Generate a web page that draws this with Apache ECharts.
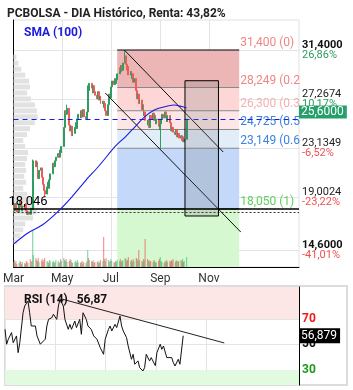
<!DOCTYPE html>
<html>
<head>
<meta charset="utf-8">
<script src="https://cdn.jsdelivr.net/npm/echarts@6/dist/echarts.min.js"></script>
<style>
  html,body{margin:0;padding:0;background:#fff;}
  #box{width:353px;height:390px;}
</style>
</head>
<body>
<div id="box"></div>
<script>
// cierres diarios (semana a semana, lun-vie)
var closes = [
  18.3, 17.9, 18.5, 18.1, 17.8,  18.4, 18.7, 18.2, 17.9, 18.3,
  18.0, 18.5, 17.9, 17.6, 17.8,  17.6, 18.1, 18.0, 21.9, 22.1,
  21.6, 22.0, 21.1, 20.6, 21.3,  21.5, 20.7, 20.1, 19.6, 19.3,
  19.9, 20.3, 19.8, 20.5, 21.0,  21.3, 21.9, 21.6, 22.1, 22.4,
  22.7, 22.4, 23.0, 22.8, 23.3,  24.9, 25.6, 26.3, 26.0, 26.5,
  25.1, 24.6, 25.0, 24.2, 24.4,  24.9, 25.3, 24.8, 25.6, 26.0,
  25.7, 26.3, 25.8, 26.4, 25.8,  25.6, 26.2, 28.4, 28.0, 28.6,
  28.2, 27.8, 28.4, 27.9, 27.6,  27.3, 27.9, 27.2, 27.5, 26.9,
  27.1, 26.6, 26.9, 26.3, 25.9,  26.8, 27.7, 27.4, 28.3, 28.8,
  28.5, 29.0, 28.6, 28.9, 29.4,  29.9, 29.6, 30.1, 29.7, 30.3,
  30.9, 30.2, 29.7, 30.0, 29.3,  29.6, 29.0, 29.4, 28.7, 29.0,
  28.0, 27.3, 27.7, 26.9, 27.2,  26.4, 26.8, 25.9, 26.2, 25.5,
  25.1, 25.5, 24.9, 25.9, 25.6,  26.1, 25.5, 25.9, 25.2, 25.6,
  25.0, 24.7, 25.2, 25.6, 26.0,  25.7, 26.2, 25.8, 25.4, 25.9,
  25.3, 25.0, 24.6, 24.9, 24.5,  24.3, 24.7, 24.1, 24.4, 24.0,
  24.2, 23.8, 24.1, 23.7, 23.9,  25.6
];
var firstOpen = 18.0;
// mechas visibles: indice -> [minimo, maximo]
var wicks = {18: [18.0, 22.2], 29: [19.1, 19.6], 49: [26.0, 26.8], 100: [30.3, 31.4], 132: [23.1, 25.2]};
var volumes = [
  5,7,4,6,3, 4,6,5,3,5, 4,3,6,5,4, 8,5,6,37,12, 9,7,6,9,5, 6,8,5,7,9,
  6,5,4,7,6, 5,6,4,5,7, 6,4,5,8,6, 9,7,6,8,5, 6,8,7,5,4, 5,6,4,7,5,
  4,5,6,3,5, 4,6,17,9,7, 6,5,7,4,5, 5,6,4,5,7, 6,30,8,6,9, 7,5,6,8,6,
  5,4,6,5,7, 6,8,5,6,7, 9,8,6,7,10, 6,7,5,8,6, 9,8,6,17,7, 6,5,8,7,28,
  8,6,7,5,6, 5,7,6,4,5, 6,8,10,6,5, 4,6,5,7,5, 6,5,7,6,8, 5,7,6,5,6,
  7,6,8,5,6, 10
];
var rsiValues = [
  61.9,50.2,54.1,59.3,51.4,56.7,43.6,51.4,74.9,80.2,
  84.1,74.9,64.5,64.5,56.7,50.2,48.8,54.1,64.5,69.7,
  71.0,73.7,69.7,80.2,85.5,80.2,69.7,61.9,65.8,61.9,
  68.4,63.2,69.7,58.0,74.9,69.7,64.5,61.9,56.7,54.1,
  52.7,47.5,42.3,54.1,61.9,64.5,60.6,65.8,63.2,72.3,
  64.5,60.6,55.4,48.8,38.4,42.3,34.5,37.1,31.8,29.2,
  31.8,42.3,37.1,39.7,33.4,43.6,50.2,46.2,48.8,39.7,
  41.0,39.7,35.7,33.1,38.4,34.5,56.879
];
var smaDates = ['2021-03-01','2021-03-19','2021-04-06','2021-04-25','2021-05-13','2021-05-31','2021-06-16','2021-07-07',
                '2021-07-19','2021-07-31','2021-08-12','2021-08-24','2021-09-05','2021-09-18','2021-09-28','2021-10-04'];
var smaValues = [15.10,16.03,16.70,17.79,19.05,20.48,21.66,23.34,24.09,24.93,25.77,26.35,26.61,26.78,26.65,26.53];

// perfil de volumen por precio (tramos de 0,5)
var vpPrices = [30.5,30.0,29.5,29.0,28.5,28.0,27.5,27.0,26.5,26.0,25.5,25.0,24.5,24.0,23.5,23.0,
                22.5,22.0,21.5,21.0,20.5,20.0,19.5,19.0,18.5,18.0,17.5,17.0,16.5,16.0,15.5,15.0];
var vpVolumes = [3,5,8,12,16,17,14,18,22,24,25,22,17,14,10,12,15,14,12,13,11,13,10,14,18,22,24,20,12,10,7,4];

// fibonacci
var fibLevels = [31.4, 28.249, 26.3, 24.725, 23.149, 18.05];
var fibLabels = ['31,400 (0)','28,249 (0.236)','26,300 (0.382)','24,725 (0.5)','23,149 (0.618)','18,050 (1)'];
var fibStart = '2021-07-09', fibEnd = '2021-12-09';

// eje de precios
var priceTicks = [31.4, 27.2674, 23.1349, 19.0024, 14.6];
var priceTickLabels = ['31,4000','27,2674','23,1349','19,0024','14,6000'];
var pctLabels = ['26,86%','10,17%','-6,52%','-23,22%','-41,01%'];
var monthTicks = ['2021-03-01','2021-05-01','2021-07-01','2021-09-01','2021-11-01'];
var monthLabels = ['Mar','May','Jul','Sep','Nov'];
var rsiTicks = [70, 50, 30];

// dibujos a mano sobre el grafico
var trendUpper = [['2021-07-18', 31.4], ['2021-11-19', 22.83]];
var trendLower = [['2021-06-24', 27.79], ['2021-12-11', 16.11]];
var boxCorners = [['2021-10-02', 28.82], ['2021-11-13', 17.46]];
var supportLevel = 18.046, dottedLevel = 17.77, lastPrice = 25.6;
var rsiTrend = [['2021-05-09', 85.7], ['2021-11-23', 51.2]];
var lastRsi = 56.879;

var priceMin = 13.177, priceMax = 33.92;
var rsiMin = 18.2, rsiMax = 95.1;

function ts(s){ var p = s.split('-'); return new Date(+p[0], +p[1]-1, +p[2]).getTime(); }
function nearest(arr, v){ var b = 0; for (var i = 1; i < arr.length; i++) if (Math.abs(arr[i]-v) < Math.abs(arr[b]-v)) b = i; return b; }

var dates = [];
var dd = new Date(2021, 2, 1);
while (dates.length < closes.length) {
  var wd = dd.getDay();
  if (wd !== 0 && wd !== 6) dates.push(dd.getTime());
  dd.setDate(dd.getDate() + 1);
}

var candles = closes.map(function(c, i){
  var o = i === 0 ? firstOpen : closes[i-1];
  var lo = Math.min(o, c), hi = Math.max(o, c);
  if (wicks[i]) { lo = Math.min(lo, wicks[i][0]); hi = Math.max(hi, wicks[i][1]); }
  return [dates[i], o, c, lo, hi];
});
var volData = volumes.map(function(v, i){
  var up = candles[i][2] >= candles[i][1];
  return {value: [dates[i], v], itemStyle: {color: up ? 'rgba(40,185,100,0.55)' : 'rgba(240,80,80,0.6)'}};
});
var smaData = smaDates.map(function(d, i){ return [ts(d), smaValues[i]]; });
var rsiData = rsiValues.map(function(v, j){
  return [dates[Math.round(j * (dates.length-1) / (rsiValues.length-1))], v];
});
var monthTs = monthTicks.map(ts);
var xMin = ts('2021-03-01'), xMax = ts('2022-02-22');

var fibFill = ['#ecb6b6','#fdd6d6','#fde6e6','#e2edfa','#c4d9f9','#d5f8d0'];
var fibLine = ['#000','#888','#888','#888','#888','#000'];
var fibText = ['#f08585','#f08585','#f5b0b0','#3c82e4','#3c82e4','#5fd060'];

var FONT = 'Roboto';
var myChart = echarts.init(document.getElementById('box'));
var option = {
  animation: false,
  backgroundColor: '#fff',
  textStyle: {fontFamily: FONT},
  title: [
    {text: 'PCBOLSA - DIA Histórico, Renta: 43,82%', left: 2, top: 3, textStyle: {fontSize: 12, fontWeight: 'bold', color: '#222', fontFamily: FONT}},
    {text: 'SMA (100)', left: 19, top: 22, textStyle: {fontSize: 12, fontWeight: 'bold', color: '#1a1ae0', fontFamily: FONT}},
    {text: 'RSI (14)   56,87', left: 19, top: 289, textStyle: {fontSize: 12, fontWeight: 'bold', color: '#111', fontFamily: FONT}}
  ],
  graphic: [
    {type: 'rect', silent: true, z: 0, shape: {x: 5, y: 286, width: 342, height: 99}, style: {fill: 'none', stroke: '#dcdcdc', lineWidth: 2}}
  ],
  grid: [
    {left: 5, right: 54, top: 20, bottom: 123, show: true, borderColor: '#e0e0e0', borderWidth: 1},
    {left: 5, right: 54, top: 287, bottom: 5}
  ],
  xAxis: [
    {type: 'value', gridIndex: 0, min: xMin, max: xMax, scale: true,
     axisLine: {lineStyle: {color: '#000', width: 1}}, axisTick: {show: false, customValues: monthTs},
     axisLabel: {customValues: monthTs, color: '#333', fontSize: 12, margin: 6, hideOverlap: false,
       formatter: function(v){ return monthLabels[nearest(monthTs, v)]; }},
     splitLine: {show: true, lineStyle: {color: '#e4e4e4'}}},
    {type: 'value', gridIndex: 0, min: 0, max: 294, show: false},
    {type: 'value', gridIndex: 1, min: xMin, max: xMax, scale: true,
     axisLine: {show: false}, axisTick: {show: false, customValues: monthTs},
     axisLabel: {show: false, customValues: monthTs},
     splitLine: {show: true, lineStyle: {color: '#e4e4e4'}}}
  ],
  yAxis: [
    {type: 'value', gridIndex: 0, position: 'right', min: priceMin, max: priceMax,
     axisLine: {show: true, lineStyle: {color: '#000'}}, axisTick: {show: false, customValues: priceTicks},
     axisLabel: {customValues: priceTicks, margin: 3,
       formatter: function(v){
         var i = nearest(priceTicks, v);
         var k = (i === 0 || i === priceTicks.length-1) ? 'b' : 'v';
         return '{' + k + '|' + priceTickLabels[i] + '}\n{' + (pctLabels[i].charAt(0) === '-' ? 'n' : 'p') + '|' + pctLabels[i] + '}';
       },
       rich: {
         v: {color: '#222', fontSize: 11, lineHeight: 10, fontFamily: FONT},
         b: {color: '#111', fontSize: 11, lineHeight: 10, fontWeight: 'bold', fontFamily: FONT},
         p: {color: '#2a9d5c', fontSize: 11, lineHeight: 10, fontFamily: FONT},
         n: {color: '#f05050', fontSize: 11, lineHeight: 10, fontFamily: FONT}
       }},
     splitLine: {show: true, lineStyle: {color: '#e4e4e4'}}},
    {type: 'value', gridIndex: 0, min: 0, max: 247, show: false},
    {type: 'value', gridIndex: 1, position: 'right', min: rsiMin, max: rsiMax,
     axisLine: {show: true, lineStyle: {color: '#000'}}, axisTick: {show: false, customValues: rsiTicks},
     axisLabel: {customValues: rsiTicks, margin: 3, fontSize: 12, fontWeight: 'bold',
       formatter: function(v){ var i = nearest(rsiTicks, v); return ['{r|70}','{k|50}','{g|30}'][i]; },
       rich: {r: {color: '#f01818', fontWeight: 'bold', fontSize: 12}, k: {color: '#111', fontWeight: 'bold', fontSize: 12}, g: {color: '#1a9a1a', fontWeight: 'bold', fontSize: 12}}},
     splitLine: {show: true, lineStyle: {color: '#e4e4e4'}}}
  ],
  series: [
    {type: 'custom', name: 'fib', xAxisIndex: 0, yAxisIndex: 0, clip: true, z: 1, silent: true,
     data: fibLevels.map(function(v){ return [ts(fibStart), v]; }),
     renderItem: function(params, api){
       var i = params.dataIndex;
       var bot = i + 1 < fibLevels.length ? fibLevels[i+1] : priceMin;
       var p0 = api.coord([ts(fibStart), fibLevels[i]]);
       var p1 = api.coord([ts(fibEnd), bot]);
       return {type: 'group', children: [
         {type: 'rect', shape: {x: p0[0], y: p0[1], width: p1[0]-p0[0], height: p1[1]-p0[1]}, style: {fill: fibFill[i]}},
         {type: 'line', shape: {x1: p0[0], y1: p0[1], x2: p1[0], y2: p0[1]}, style: {stroke: fibLine[i], lineWidth: 1}},
         {type: 'text', style: {text: fibLabels[i], x: p1[0] + 1, y: p0[1] - 1, fill: fibText[i], font: '12px ' + FONT, verticalAlign: 'bottom'}}
       ]};
     }},
    {type: 'custom', name: 'perfil', xAxisIndex: 1, yAxisIndex: 0, clip: true, z: 2, silent: true,
     data: vpVolumes.map(function(w, i){ return [w, vpPrices[i]]; }),
     renderItem: function(params, api){
       var p0 = api.coord([0, api.value(1) + 0.5]);
       var p1 = api.coord([api.value(0), api.value(1)]);
       return {type: 'rect', shape: {x: p0[0], y: p0[1], width: p1[0]-p0[0], height: p1[1]-p0[1]-1}, style: {fill: '#e2e2e2'}};
     }},
    {type: 'bar', name: 'volumen', xAxisIndex: 0, yAxisIndex: 1, data: volData, barWidth: 1.2, z: 3},
    {type: 'candlestick', name: 'PCBOLSA', xAxisIndex: 0, yAxisIndex: 0, data: candles, barWidth: 1.4, z: 4,
     itemStyle: {color: '#2e9d62', color0: '#ef5a5a', borderColor: '#2e9d62', borderColor0: '#ef5a5a', borderWidth: 1}},
    {type: 'custom', name: 'caja', xAxisIndex: 0, yAxisIndex: 0, clip: true, z: 6, silent: true,
     data: [[ts(boxCorners[0][0]), boxCorners[0][1], ts(boxCorners[1][0]), boxCorners[1][1]]],
     renderItem: function(params, api){
       var p0 = api.coord([api.value(0), api.value(1)]);
       var p1 = api.coord([api.value(2), api.value(3)]);
       return {type: 'rect', shape: {x: p0[0], y: p0[1], width: p1[0]-p0[0], height: p1[1]-p0[1]},
               style: {fill: 'rgba(110,110,110,0.2)', stroke: '#000', lineWidth: 1}};
     }},
    {type: 'line', name: 'SMA (100)', xAxisIndex: 0, yAxisIndex: 0, data: smaData, symbol: 'none', smooth: 0.3, z: 7,
     lineStyle: {color: '#1a1ae6', width: 1.1},
     markLine: {silent: true, symbol: ['none', 'none'], data: [
       [{coord: [ts(trendUpper[0][0]), trendUpper[0][1]], lineStyle: {color: '#111', width: 1, type: 'solid'}, label: {show: false}},
        {coord: [ts(trendUpper[1][0]), trendUpper[1][1]]}],
       [{coord: [ts(trendLower[0][0]), trendLower[0][1]], lineStyle: {color: '#111', width: 1, type: 'solid'}, label: {show: false}},
        {coord: [ts(trendLower[1][0]), trendLower[1][1]]}],
       {yAxis: supportLevel, lineStyle: {color: '#000', width: 1.5, type: 'solid'},
        label: {show: true, position: 'insideStartTop', formatter: '18,046', color: '#000', fontSize: 13, distance: 1, offset: [-6, 0], fontFamily: FONT}},
       {yAxis: dottedLevel, lineStyle: {color: '#333', width: 1, type: [2, 2]}, label: {show: false}},
       {yAxis: lastPrice, lineStyle: {color: '#1a1ae6', width: 1.2, type: [5, 4]},
        label: {show: true, position: 'end', formatter: '25,6000', color: '#fff', backgroundColor: '#26a06a',
                padding: [1, 3, 0, 2], fontSize: 12, distance: 0, offset: [0, -7], fontFamily: FONT}}
     ]}},
    {type: 'line', name: 'RSI (14)', xAxisIndex: 2, yAxisIndex: 2, data: rsiData, symbol: 'none', z: 5,
     lineStyle: {color: '#111', width: 1},
     markArea: {silent: true, data: [
       [{yAxis: 70, itemStyle: {color: '#fde6e6'}}, {yAxis: rsiMax}],
       [{yAxis: rsiMin, itemStyle: {color: '#e2fbe0'}}, {yAxis: 30}]
     ]},
     markLine: {silent: true, symbol: ['none', 'none'], data: [
       [{coord: [ts(rsiTrend[0][0]), rsiTrend[0][1]], lineStyle: {color: '#222', width: 1, type: 'solid'}, label: {show: false}},
        {coord: [ts(rsiTrend[1][0]), rsiTrend[1][1]]}],
       {yAxis: lastRsi, lineStyle: {color: 'rgba(0,0,0,0)', width: 0},
        label: {show: true, position: 'end', formatter: '56,879', color: '#fff', backgroundColor: '#000',
                padding: [2, 3, 1, 2], fontSize: 12, distance: 0, fontFamily: FONT}}
     ]}}
  ]
};
myChart.setOption(option);
</script>
</body>
</html>
